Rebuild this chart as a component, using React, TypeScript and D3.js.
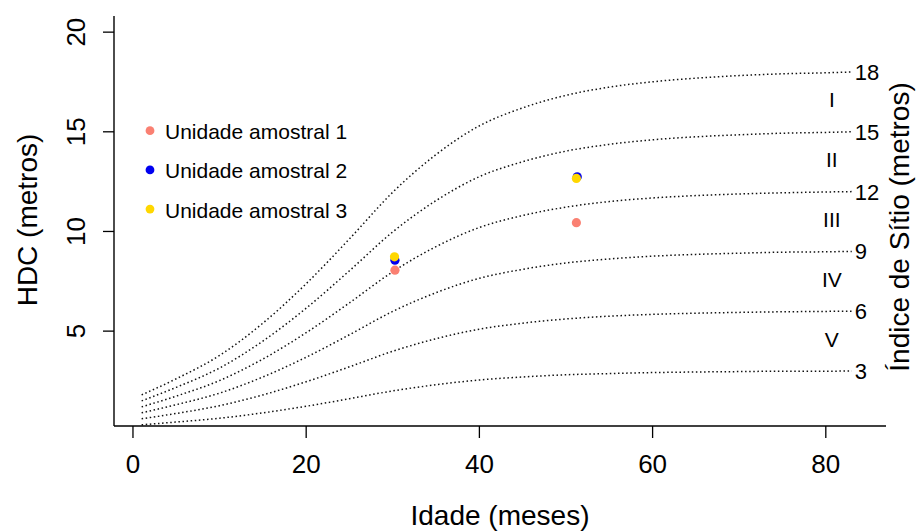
import React from "react";
import * as d3 from "d3";

const ages = [1, 5, 10, 15, 20, 25, 30, 35, 40, 45, 50, 55, 60, 65, 70, 75, 80, 83];

const curve18 = [1.8, 2.61, 3.78, 5.4, 7.38, 9.63, 11.97, 13.86, 15.3, 16.2, 16.83, 17.24, 17.51, 17.69, 17.82, 17.91, 17.96, 18.0];
const curve15 = [1.5, 2.18, 3.15, 4.5, 6.15, 8.03, 9.98, 11.55, 12.75, 13.5, 14.03, 14.37, 14.6, 14.75, 14.85, 14.93, 14.97, 15.0];
const curve12 = [1.2, 1.74, 2.52, 3.6, 4.92, 6.42, 7.98, 9.24, 10.2, 10.8, 11.22, 11.5, 11.68, 11.8, 11.88, 11.94, 11.98, 12.0];
const curve9 = [0.9, 1.31, 1.89, 2.7, 3.69, 4.82, 5.99, 6.93, 7.65, 8.1, 8.42, 8.62, 8.76, 8.85, 8.91, 8.96, 8.98, 9.0];
const curve6 = [0.6, 0.87, 1.26, 1.8, 2.46, 3.21, 3.99, 4.62, 5.1, 5.4, 5.61, 5.75, 5.84, 5.9, 5.94, 5.97, 5.99, 6.0];
const curve3 = [0.3, 0.44, 0.63, 0.9, 1.23, 1.61, 2.0, 2.31, 2.55, 2.7, 2.81, 2.87, 2.92, 2.95, 2.97, 2.99, 2.99, 3.0];

const siteIndices = [18, 15, 12, 9, 6, 3];
const siteCurves = [curve18, curve15, curve12, curve9, curve6, curve3];

const classLabels = ["I", "II", "III", "IV", "V"];

const unitNames = ["Unidade amostral 1", "Unidade amostral 2", "Unidade amostral 3"];
const unitColors = ["#FA8072", "#0000F0", "#FFD700"];
const unitAges = [
  [30.25, 51.2],
  [30.25, 51.3],
  [30.2, 51.2],
];
const unitHeights = [
  [8.06, 10.44],
  [8.56, 12.74],
  [8.73, 12.66],
];

const xTicks = [0, 20, 40, 60, 80];
const yTicks = [5, 10, 15, 20];

const FONT = "'Liberation Sans', Arial, Helvetica, sans-serif";

export default function App() {
  const left = 114;
  const right = 886;
  const top = 16;
  const bottom = 426;

  const x = d3.scaleLinear().domain([-2.19, 86.95]).range([left, right]);
  const y = d3.scaleLinear().domain([0.24, 20.81]).range([bottom, top]);

  const line = d3
    .line<number>()
    .x((_, i) => x(ages[i]))
    .y((d) => y(d))
    .curve(d3.curveMonotoneX);

  const lastAge = ages[ages.length - 1];

  const classPos = classLabels.map((lab, i) => ({
    lab,
    v: (siteIndices[i] + siteIndices[i + 1]) / 2 + 0.1,
  }));

  return (
    <svg
      width={916}
      height={531}
      style={{ position: "absolute", left: 0, top: 0, background: "#fff" }}
      fontFamily={FONT}
    >
      <rect x={0} y={0} width={916} height={531} fill="#fff" />

      {siteCurves.map((c, i) => (
        <path
          key={"c" + i}
          d={line(c) || ""}
          fill="none"
          stroke="#111"
          strokeWidth={1.5}
          strokeDasharray="1.5,2.6"
        />
      ))}

      {siteCurves.map((c, i) => (
        <text
          key={"l" + i}
          x={x(lastAge) + 3}
          y={y(c[c.length - 1])}
          dy="0.36em"
          fontSize={22}
          fill="#000"
        >
          {siteIndices[i]}
        </text>
      ))}

      {classPos.map((p) => (
        <text
          key={p.lab}
          x={x(80.7)}
          y={y(p.v)}
          dy="0.36em"
          fontSize={21}
          textAnchor="middle"
          fill="#000"
        >
          {p.lab}
        </text>
      ))}

      {unitAges.map((ag, u) =>
        ag.map((a, j) => (
          <circle
            key={"p" + u + "-" + j}
            cx={x(a)}
            cy={y(unitHeights[u][j])}
            r={4.6}
            fill={unitColors[u]}
          />
        ))
      )}

      <line x1={left} x2={left} y1={top} y2={bottom} stroke="#000" strokeWidth={1.4} />
      <line x1={left} x2={right} y1={bottom} y2={bottom} stroke="#000" strokeWidth={1.4} />

      {xTicks.map((t) => (
        <g key={"xt" + t}>
          <line x1={x(t)} x2={x(t)} y1={bottom} y2={bottom + 12} stroke="#000" strokeWidth={1.3} />
          <text x={x(t)} y={473} fontSize={26} textAnchor="middle" fill="#000">
            {t}
          </text>
        </g>
      ))}

      {yTicks.map((t) => (
        <g key={"yt" + t}>
          <line x1={left - 11} x2={left} y1={y(t)} y2={y(t)} stroke="#000" strokeWidth={1.3} />
          <text
            transform={`translate(85,${y(t)}) rotate(-90)`}
            fontSize={26}
            textAnchor="middle"
            fill="#000"
          >
            {t}
          </text>
        </g>
      ))}

      <text x={500} y={525} fontSize={28} textAnchor="middle" fill="#000">
        Idade (meses)
      </text>
      <text transform="translate(37,220) rotate(-90)" fontSize={28} textAnchor="middle" fill="#000">
        HDC (metros)
      </text>
      <text transform="translate(909,227) rotate(-90)" fontSize={28} textAnchor="middle" fill="#000">
        Índice de Sítio (metros)
      </text>

      {unitNames.map((n, i) => (
        <g key={"lg" + i}>
          <circle cx={150} cy={130.7 + i * 39.2} r={4.4} fill={unitColors[i]} />
          <text x={165} y={130.7 + i * 39.2 + 8.5} fontSize={21} fill="#000">
            {n}
          </text>
        </g>
      ))}
    </svg>
  );
}
